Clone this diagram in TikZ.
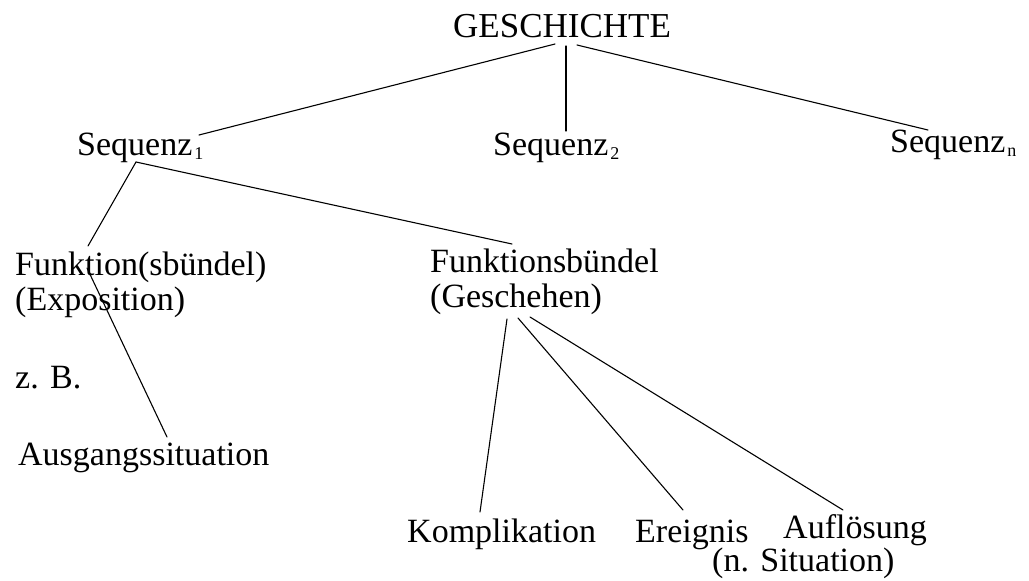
\documentclass[tikz,border=0pt]{standalone}
\usepackage{fontspec}
\setmainfont{Liberation Serif}
\newcommand\subsk[1]{\kern2pt\raisebox{-4pt}{\fontsize{18}{18}\selectfont #1}}
\begin{document}
\begin{tikzpicture}[x=1pt,y=-1pt,
  lbl/.style={anchor=base west,inner sep=0pt,font=\fontsize{34}{36}\selectfont},
  edge/.style={line width=1.1pt,line cap=round}]
\useasboundingbox (0,0) rectangle (1029,581);
% labels
\node[lbl,font=\fontsize{35}{37}\selectfont] (g) at (453,37) {GESCHICHTE};
\node[lbl] (s1) at (77,155) {Sequenz\subsk{1}};
\node[lbl] (s2) at (493,155) {Sequenz\subsk{2}};
\node[lbl] (sn) at (890,152) {Sequenz\subsk{n}};
\node[lbl] (fa) at (15,275) {Funktion(sbündel)};
\node[lbl] (fb) at (15,310) {(Exposition)};
\node[lbl] (zb) at (15,388) {z. B.};
\node[lbl] (au) at (18,465) {Ausgangssituation};
\node[lbl] (ga) at (430,272) {Funktionsbündel};
\node[lbl] (gb) at (430,307) {(Geschehen)};
\node[lbl] (ko) at (407,542) {Komplikation};
\node[lbl] (er) at (635,542) {Ereignis};
\node[lbl,text depth=0pt] (af) at (783,538) {Auflösung};
\node[lbl,text height=18pt] (ns) at (712,571) {(n. Situation)};
% connector ends
\coordinate (gL) at (555,44);
\coordinate (gM) at (566,46);
\coordinate (gR) at (577,45);
\coordinate (s1T) at (199,135);
\coordinate (s2T) at (566,131);
\coordinate (snT) at (928,130);
\coordinate (s1B) at (136,162);
\coordinate (faT) at (88,246);
\coordinate (gaT) at (512,244);
\coordinate (faM) at (87,268);
\coordinate (auT) at (167,437);
\coordinate (gbK) at (507,319);
\coordinate (gbE) at (518,318);
\coordinate (gbA) at (530,317);
\coordinate (koT) at (480,512);
\coordinate (erT) at (683,510);
\coordinate (afT) at (843,510);
% connectors
\draw[edge] (gL) -- (s1T);
\draw[edge] (gM) -- (s2T);
\draw[edge] (gR) -- (snT);
\draw[edge] (s1B) -- (faT);
\draw[edge] (s1B) -- (gaT);
\draw[edge] (faM) -- (auT);
\draw[edge] (gbK) -- (koT);
\draw[edge] (gbE) -- (erT);
\draw[edge] (gbA) -- (afT);
\end{tikzpicture}
\end{document}
